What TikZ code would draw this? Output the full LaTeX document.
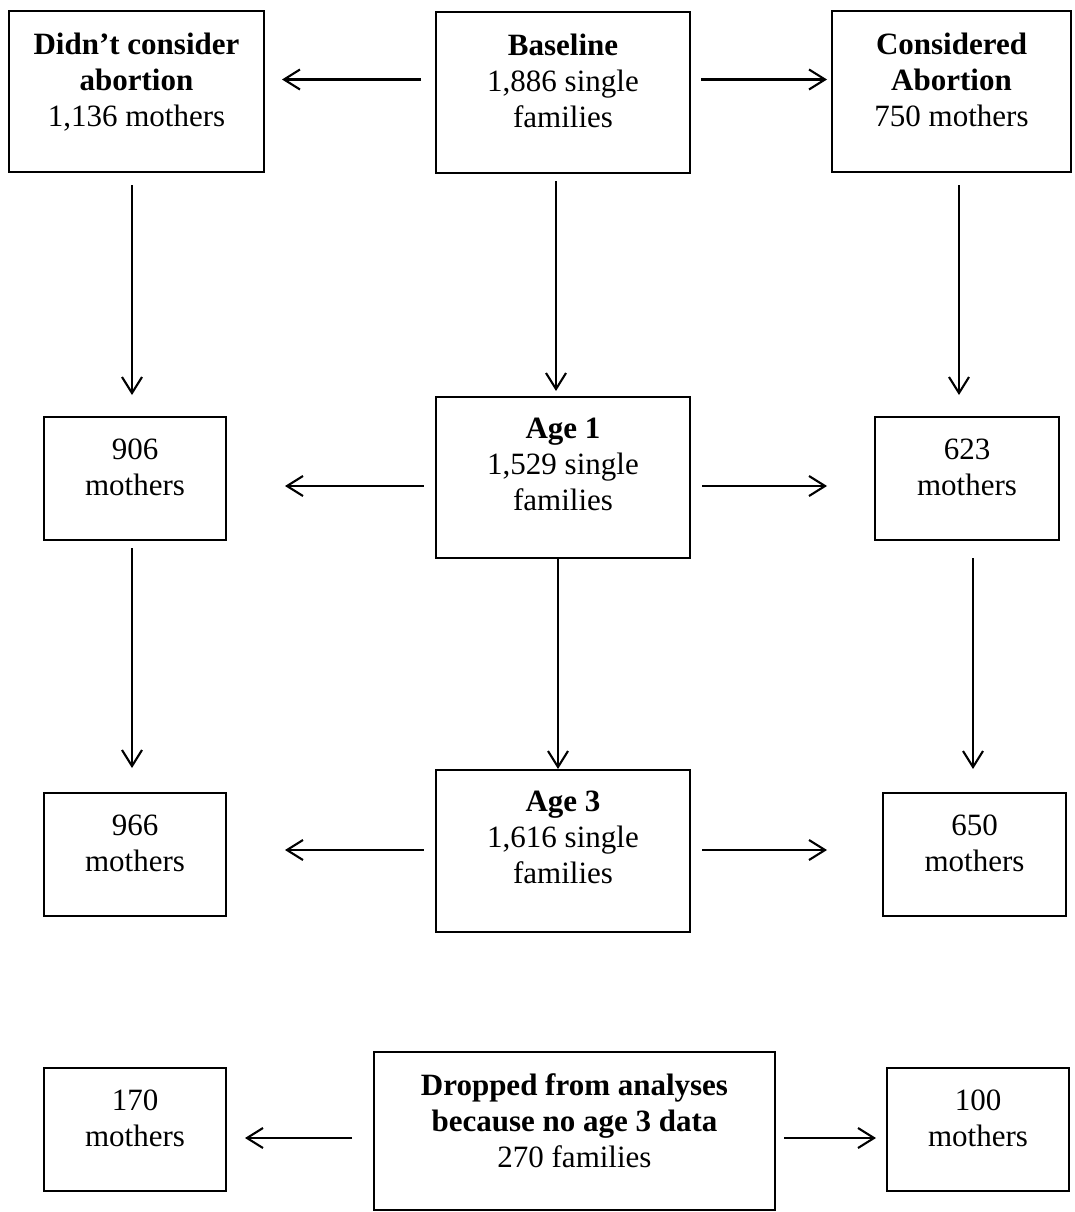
\documentclass[tikz,border=0pt]{standalone}
\usepackage{fontspec}
\setmainfont{Liberation Serif}
\usetikzlibrary{arrows.meta}
\begin{document}
\begin{tikzpicture}[x=1pt,y=-1pt,
  box/.style={draw, line width=2.6pt, inner sep=0pt, outer sep=0pt},
  big/.style={box, minimum width=254pt, minimum height=161pt},
  small/.style={box, minimum width=182pt, minimum height=123pt},
  lbl/.style={anchor=north, inner sep=0pt, align=center, font=\fontsize{31}{36}\selectfont},
  arr/.style={line width=2.1pt, -{Straight Barb[length=16pt,width=20pt,line width=2.1pt]}}
]
\useasboundingbox (0,0) rectangle (1075,1212);

% row 1
\node[big, minimum width=255pt] (dc) at (136.5,91.5) {};
\node[lbl] (dct) at ([yshift=-22pt]dc.north) {\textbf{Didn’t consider}\\\textbf{abortion}\\1,136 mothers};
\node[big] (base) at (563,92.5) {};
\node[lbl] (baset) at ([yshift=-22pt]base.north) {\textbf{Baseline}\\1,886 single\\families};
\node[big, minimum width=239pt] (cons) at (951.5,91.5) {};
\node[lbl] (const) at ([yshift=-22pt]cons.north) {\textbf{Considered}\\\textbf{Abortion}\\750 mothers};

% row 2
\node[small] (m906) at (135,478.5) {};
\node[lbl] (m906t) at ([yshift=-22pt]m906.north) {906\\mothers};
\node[big] (age1) at (563,477.5) {};
\node[lbl] (age1t) at ([yshift=-21pt]age1.north) {\textbf{Age 1}\\1,529 single\\families};
\node[small, minimum width=184pt] (m623) at (967,478.5) {};
\node[lbl] (m623t) at ([yshift=-22pt]m623.north) {623\\mothers};

% row 3
\node[small] (m966) at (135,854.5) {};
\node[lbl] (m966t) at ([yshift=-22pt]m966.north) {966\\mothers};
\node[big, minimum height=162pt] (age3) at (563,851) {};
\node[lbl] (age3t) at ([yshift=-21pt]age3.north) {\textbf{Age 3}\\1,616 single\\families};
\node[small, minimum width=183pt] (m650) at (974.5,854.5) {};
\node[lbl] (m650t) at ([yshift=-22pt]m650.north) {650\\mothers};

% row 4
\node[small] (m170) at (135,1129.5) {};
\node[lbl] (m170t) at ([yshift=-22pt]m170.north) {170\\mothers};
\node[box, minimum width=401pt, minimum height=158pt] (drop) at (574.5,1131) {};
\node[lbl] (dropt) at ([yshift=-21pt]drop.north) {\textbf{Dropped from analyses}\\\textbf{because no age 3 data}\\270 families};
\node[small] (m100) at (978,1129.5) {};
\node[lbl] (m100t) at ([yshift=-22pt]m100.north) {100\\mothers};

% horizontal arrows
\draw[arr, shorten <=15pt, shorten >=18pt] ([yshift=13pt]base.west) -- ([yshift=13pt]base.west -| dc.east);
\draw[arr, shorten <=11pt, shorten >=5pt] ([yshift=13pt]base.east) -- ([yshift=13pt]base.east -| cons.west);
\draw[arr, shorten <=12.5pt, shorten >=59pt] ([yshift=-8.5pt]age1.west) -- ([yshift=-8.5pt]age1.west -| m906.east);
\draw[arr, shorten <=12pt, shorten >=48pt] ([yshift=-8.5pt]age1.east) -- ([yshift=-8.5pt]age1.east -| m623.west);
\draw[arr, shorten <=12.5pt, shorten >=59pt] ([yshift=1pt]age3.west) -- ([yshift=1pt]age3.west -| m966.east);
\draw[arr, shorten <=12pt, shorten >=56pt] ([yshift=1pt]age3.east) -- ([yshift=1pt]age3.east -| m650.west);
\draw[arr, shorten <=22pt, shorten >=19pt] ([yshift=-7pt]drop.west) -- ([yshift=-7pt]drop.west -| m170.east);
\draw[arr, shorten <=9pt, shorten >=11pt] ([yshift=-7pt]drop.east) -- ([yshift=-7pt]drop.east -| m100.west);

% vertical arrows
\draw[arr, shorten <=13pt, shorten >=22pt] ([xshift=-4.5pt]dc.south) -- ([xshift=-4.5pt]dc.south |- m906.north);
\draw[arr, shorten <=8pt, shorten >=6pt] ([xshift=-7pt]base.south) -- ([xshift=-7pt]base.south |- age1.north);
\draw[arr, shorten <=13pt, shorten >=22pt] ([xshift=7.5pt]cons.south) -- ([xshift=7.5pt]cons.south |- m623.north);
\draw[arr, shorten <=8pt, shorten >=25pt] ([xshift=-3pt]m906.south) -- ([xshift=-3pt]m906.south |- m966.north);
\draw[arr, shorten <=0pt, shorten >=1pt] ([xshift=-5pt]age1.south) -- ([xshift=-5pt]age1.south |- age3.north);
\draw[arr, shorten <=18pt, shorten >=24pt] ([xshift=6pt]m623.south) -- ([xshift=6pt]m623.south |- m650.north);
\end{tikzpicture}
\end{document}
